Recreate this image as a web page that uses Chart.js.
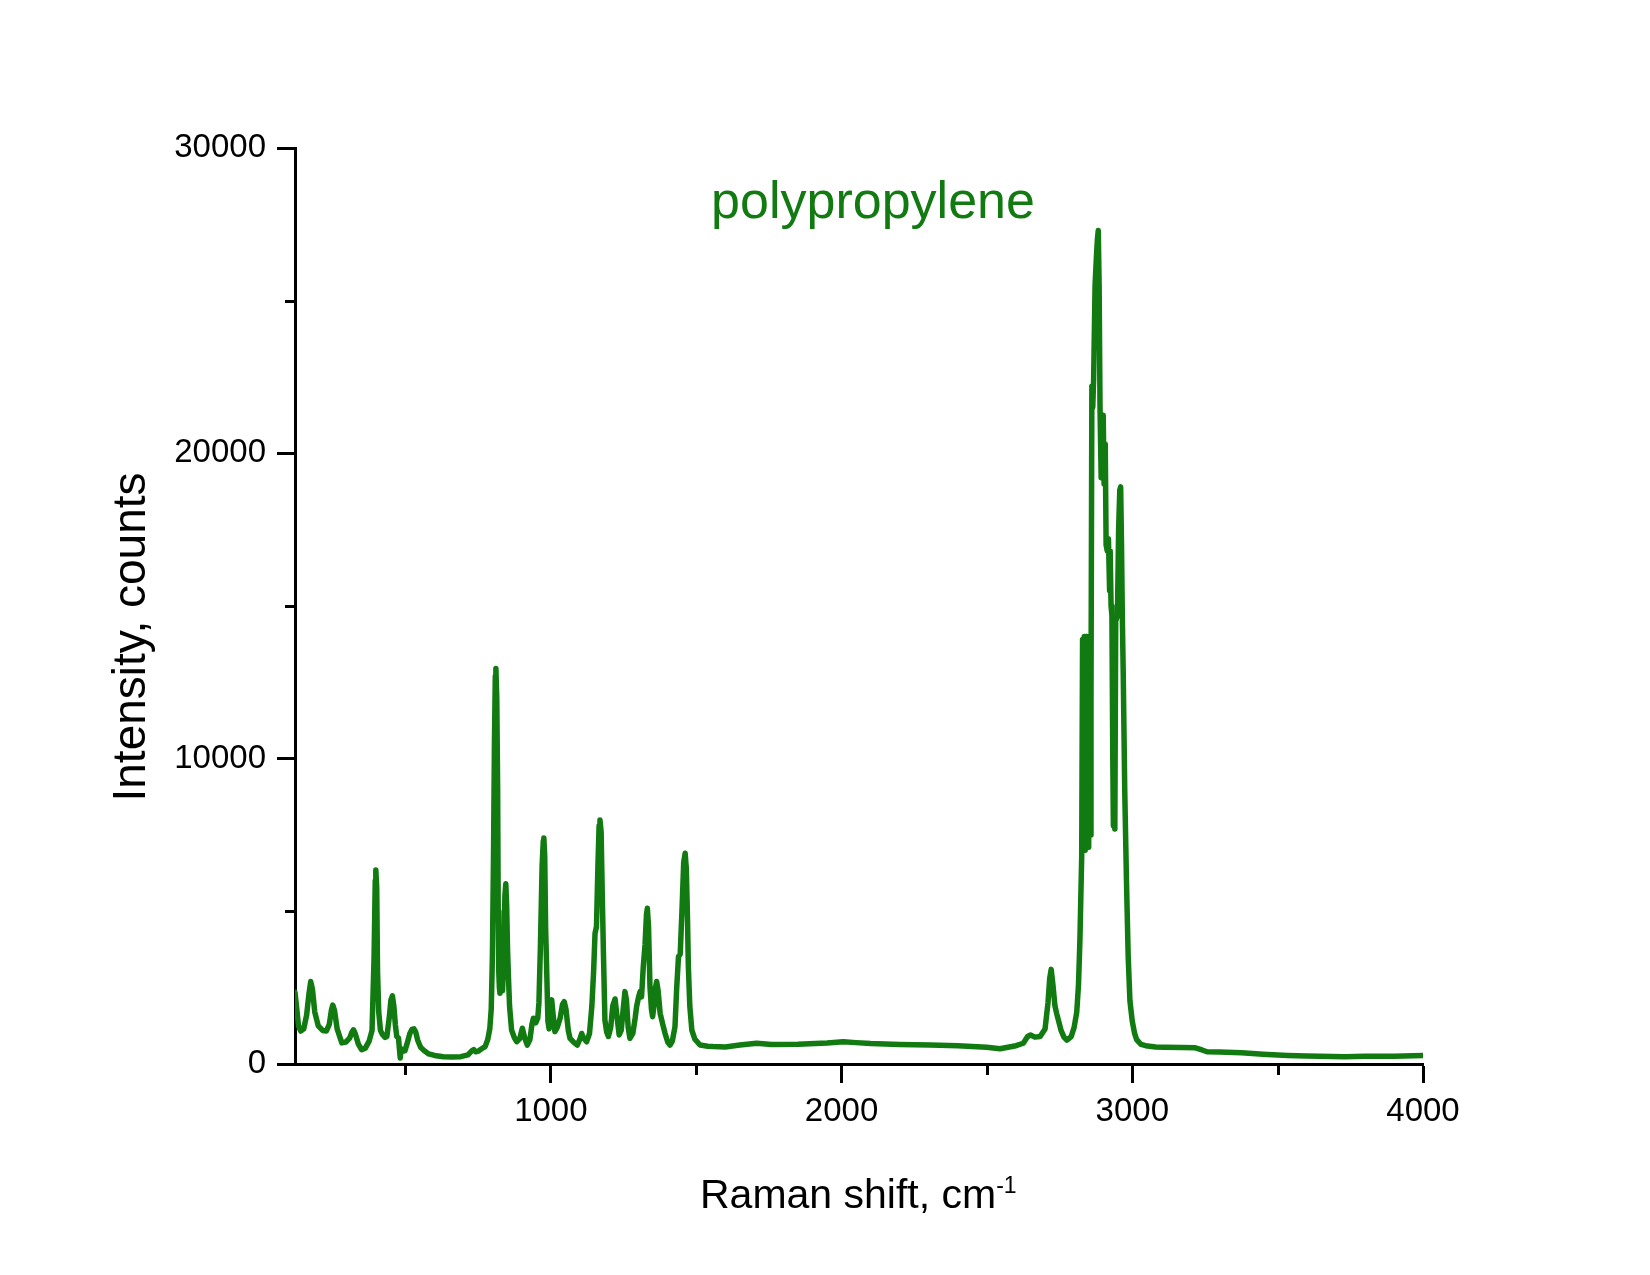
<!DOCTYPE html>
<html>
<head>
<meta charset="utf-8">
<script src="https://cdn.jsdelivr.net/npm/chart.js@4"></script>
<style>
html,body{margin:0;padding:0;background:#fff;}
canvas{display:block;}
</style>
</head>
<body>
<canvas id="c" width="1650" height="1275"></canvas>
<script>
const ramanShift = [
 120,125,132,140,150,160,168,174,180,188,200,215,228,238,245,250,256,265,281,295,
 308,316,321,327,338,349,362,375,385,392,396,398,401,404,408,414,420,430,436,444,
 450,455,460,465,470,476,480,482,485,490,498,505,515,522,529,535,542,552,565,580,
 600,630,660,690,715,728,735,742,750,762,774,783,790,795,799,803,806,809,811,814,
 817,819,821,823,825,828,831,834,838,842,845,848,851,854,858,865,875,883,893,902,
 910,919,928,935,940,948,955,959,964,970,974,976,979,982,986,990,994,999,1003,1008,
 1014,1022,1032,1040,1046,1052,1060,1066,1080,1091,1100,1106,1112,1123,1133,1141,1147,1152,1157,1162,
 1166,1169,1173,1177,1181,1186,1192,1198,1206,1213,1221,1227,1235,1242,1248,1255,1260,1266,1272,1282,
 1290,1295,1302,1307,1312,1318,1324,1329,1332,1336,1341,1346,1350,1355,1360,1364,1369,1376,1385,1393,
 1402,1410,1418,1427,1433,1439,1445,1451,1457,1462,1466,1470,1473,1478,1485,1495,1513,1540,1559,1600,
 1650,1708,1760,1850,1950,2006,2050,2100,2200,2304,2400,2499,2545,2600,2625,2640,2650,2665,2683,2700,
 2710,2716,2721,2727,2734,2740,2755,2765,2775,2790,2800,2809,2815,2820,2826,2829,2832,2835,2838,2841,
 2844,2847,2850,2853,2856,2858,2861,2864,2867,2872,2877,2880,2883,2886,2889,2893,2897,2900,2903,2907,
 2910,2914,2918,2922,2924,2927,2930,2933,2935,2937,2938,2940,2943,2949,2953,2957,2960,2963,2966,2969,
 2974,2980,2986,2992,3000,3008,3015,3030,3046,3080,3112,3170,3217,3240,3257,3300,3376,3450,3534,3600,
 3731,3800,3900,4000
];
const intensity = [
 2350,1900,1250,1080,1150,1600,2300,2700,2450,1700,1250,1100,1080,1300,1750,1930,1750,1150,690,720,
 850,1050,1120,1000,650,470,520,750,1100,3500,6000,6350,5800,3000,1700,1100,980,870,900,1500,
 2100,2230,1900,1300,900,850,400,200,500,420,430,650,1000,1130,1150,1050,780,550,430,330,
 280,240,230,240,300,430,470,400,420,500,570,800,1150,1800,3500,7000,10500,12700,12950,12000,
 9000,5000,3000,2500,2320,2800,3200,2400,3500,5500,5900,5200,3800,2900,1900,1110,850,730,830,1170,
 860,620,800,1300,1500,1350,1500,2000,3800,6500,7300,7400,6800,4500,2970,1400,1150,1900,2100,1600,
 1060,1200,1500,1950,2040,1800,1100,840,700,620,820,1000,850,730,1000,1880,3000,4280,4500,6500,
 7800,7990,7600,5500,3600,1440,1050,900,1200,1900,2130,1600,950,1100,1700,2370,2100,1200,840,1000,
 1500,1880,2200,2370,2200,3190,3900,4900,5100,4500,2530,1800,1550,1900,2500,2700,2400,1660,1300,1000,
 720,620,750,1220,2500,3510,3600,5000,6600,6900,6400,4800,3200,1900,1110,820,620,580,570,560,
 620,680,640,650,690,730,700,670,640,620,600,550,500,600,680,900,950,880,900,1150,
 2000,2800,3100,2600,1900,1650,1100,880,780,900,1200,1700,2600,4100,6800,13900,7200,14000,7000,14000,
 7500,13700,7100,14000,7500,12000,22200,21500,22400,25500,26500,27000,27300,25500,21500,19200,21000,21250,19000,20300,
 17000,16800,17200,15500,16800,15000,14700,10000,7800,9000,14000,7700,14500,14700,17500,18800,18900,17000,14500,12700,
 9000,6000,3500,2060,1400,1000,800,640,600,560,550,540,530,460,400,390,370,320,280,260,
 240,250,250,280
];
const xRange = [120, 4000];
const yRange = [0, 30000];
const xMajorTicks = [1000, 2000, 3000, 4000];
const xMinorTicks = [500, 1500, 2500, 3500];
const yMajorTicks = [0, 10000, 20000, 30000];
const yMinorTicks = [5000, 15000, 25000];
const chartTitle = 'polypropylene';
const xTitle = 'Raman shift, cm';
const xTitleSup = '-1';
const yTitle = 'Intensity, counts';

const FONT = '"Liberation Sans", Arial, sans-serif';
const GREEN = '#117a11';

const extrasPlugin = {
  id: 'extras',
  afterDraw(chart) {
    const ctx = chart.ctx;
    const xs = chart.scales.x, ys = chart.scales.y;
    const area = chart.chartArea;
    ctx.save();
    ctx.strokeStyle = '#000';
    ctx.lineWidth = 3;
    ctx.beginPath();
    xMinorTicks.forEach(v => {
      const px = Math.round(xs.getPixelForValue(v)) + 0.5;
      ctx.moveTo(px, area.bottom);
      ctx.lineTo(px, area.bottom + 11);
    });
    yMinorTicks.forEach(v => {
      const py = Math.round(ys.getPixelForValue(v)) + 0.5;
      ctx.moveTo(area.left, py);
      ctx.lineTo(area.left - 10, py);
    });
    ctx.stroke();
    ctx.fillStyle = GREEN;
    ctx.font = '52px ' + FONT;
    ctx.textAlign = 'center';
    ctx.textBaseline = 'alphabetic';
    ctx.fillText(chartTitle, 873, 218);
    ctx.fillStyle = '#000';
    ctx.font = '41px ' + FONT;
    ctx.textAlign = 'left';
    ctx.fillText(xTitle, 700, 1208);
    const w = ctx.measureText(xTitle).width;
    ctx.font = '23px ' + FONT;
    ctx.fillText(xTitleSup, 700 + w, 1193);
    ctx.font = '46px ' + FONT;
    ctx.translate(145, 637);
    ctx.rotate(-Math.PI / 2);
    ctx.textAlign = 'center';
    ctx.fillText(yTitle, 0, 0);
    ctx.restore();
  }
};

const points = ramanShift.map((x, i) => ({ x: x, y: intensity[i] }));

new Chart(document.getElementById('c'), {
  type: 'line',
  data: {
    datasets: [{
      data: points,
      borderColor: GREEN,
      borderWidth: 5.5,
      pointRadius: 0,
      tension: 0,
      fill: false,
      borderJoinStyle: 'round',
      borderCapStyle: 'round'
    }]
  },
  options: {
    responsive: false,
    animation: false,
    devicePixelRatio: 1,
    layout: { padding: { left: 0, right: 227, top: 148, bottom: 0 } },
    plugins: { legend: { display: false }, tooltip: { enabled: false }, title: { display: false } },
    scales: {
      x: {
        type: 'linear',
        min: xRange[0], max: xRange[1],
        afterBuildTicks: s => { s.ticks = xMajorTicks.map(v => ({ value: v })); },
        afterFit: s => { s.height = 211; },
        border: { display: true, color: '#000', width: 3 },
        grid: { drawOnChartArea: false, drawTicks: true, tickLength: 19, tickWidth: 3, tickColor: '#000' },
        ticks: { color: '#000', font: { family: FONT, size: 33 }, padding: 9, maxRotation: 0, autoSkip: false,
                 callback: v => String(v) }
      },
      y: {
        type: 'linear',
        min: yRange[0], max: yRange[1],
        afterBuildTicks: s => { s.ticks = yMajorTicks.map(v => ({ value: v })); },
        afterFit: s => { s.width = 295; },
        border: { display: true, color: '#000', width: 3 },
        grid: { drawOnChartArea: false, drawTicks: true, tickLength: 18, tickWidth: 3, tickColor: '#000' },
        ticks: { color: '#000', font: { family: FONT, size: 33 }, padding: 11, autoSkip: false,
                 callback: v => String(v) }
      }
    }
  },
  plugins: [extrasPlugin]
});
</script>
</body>
</html>
